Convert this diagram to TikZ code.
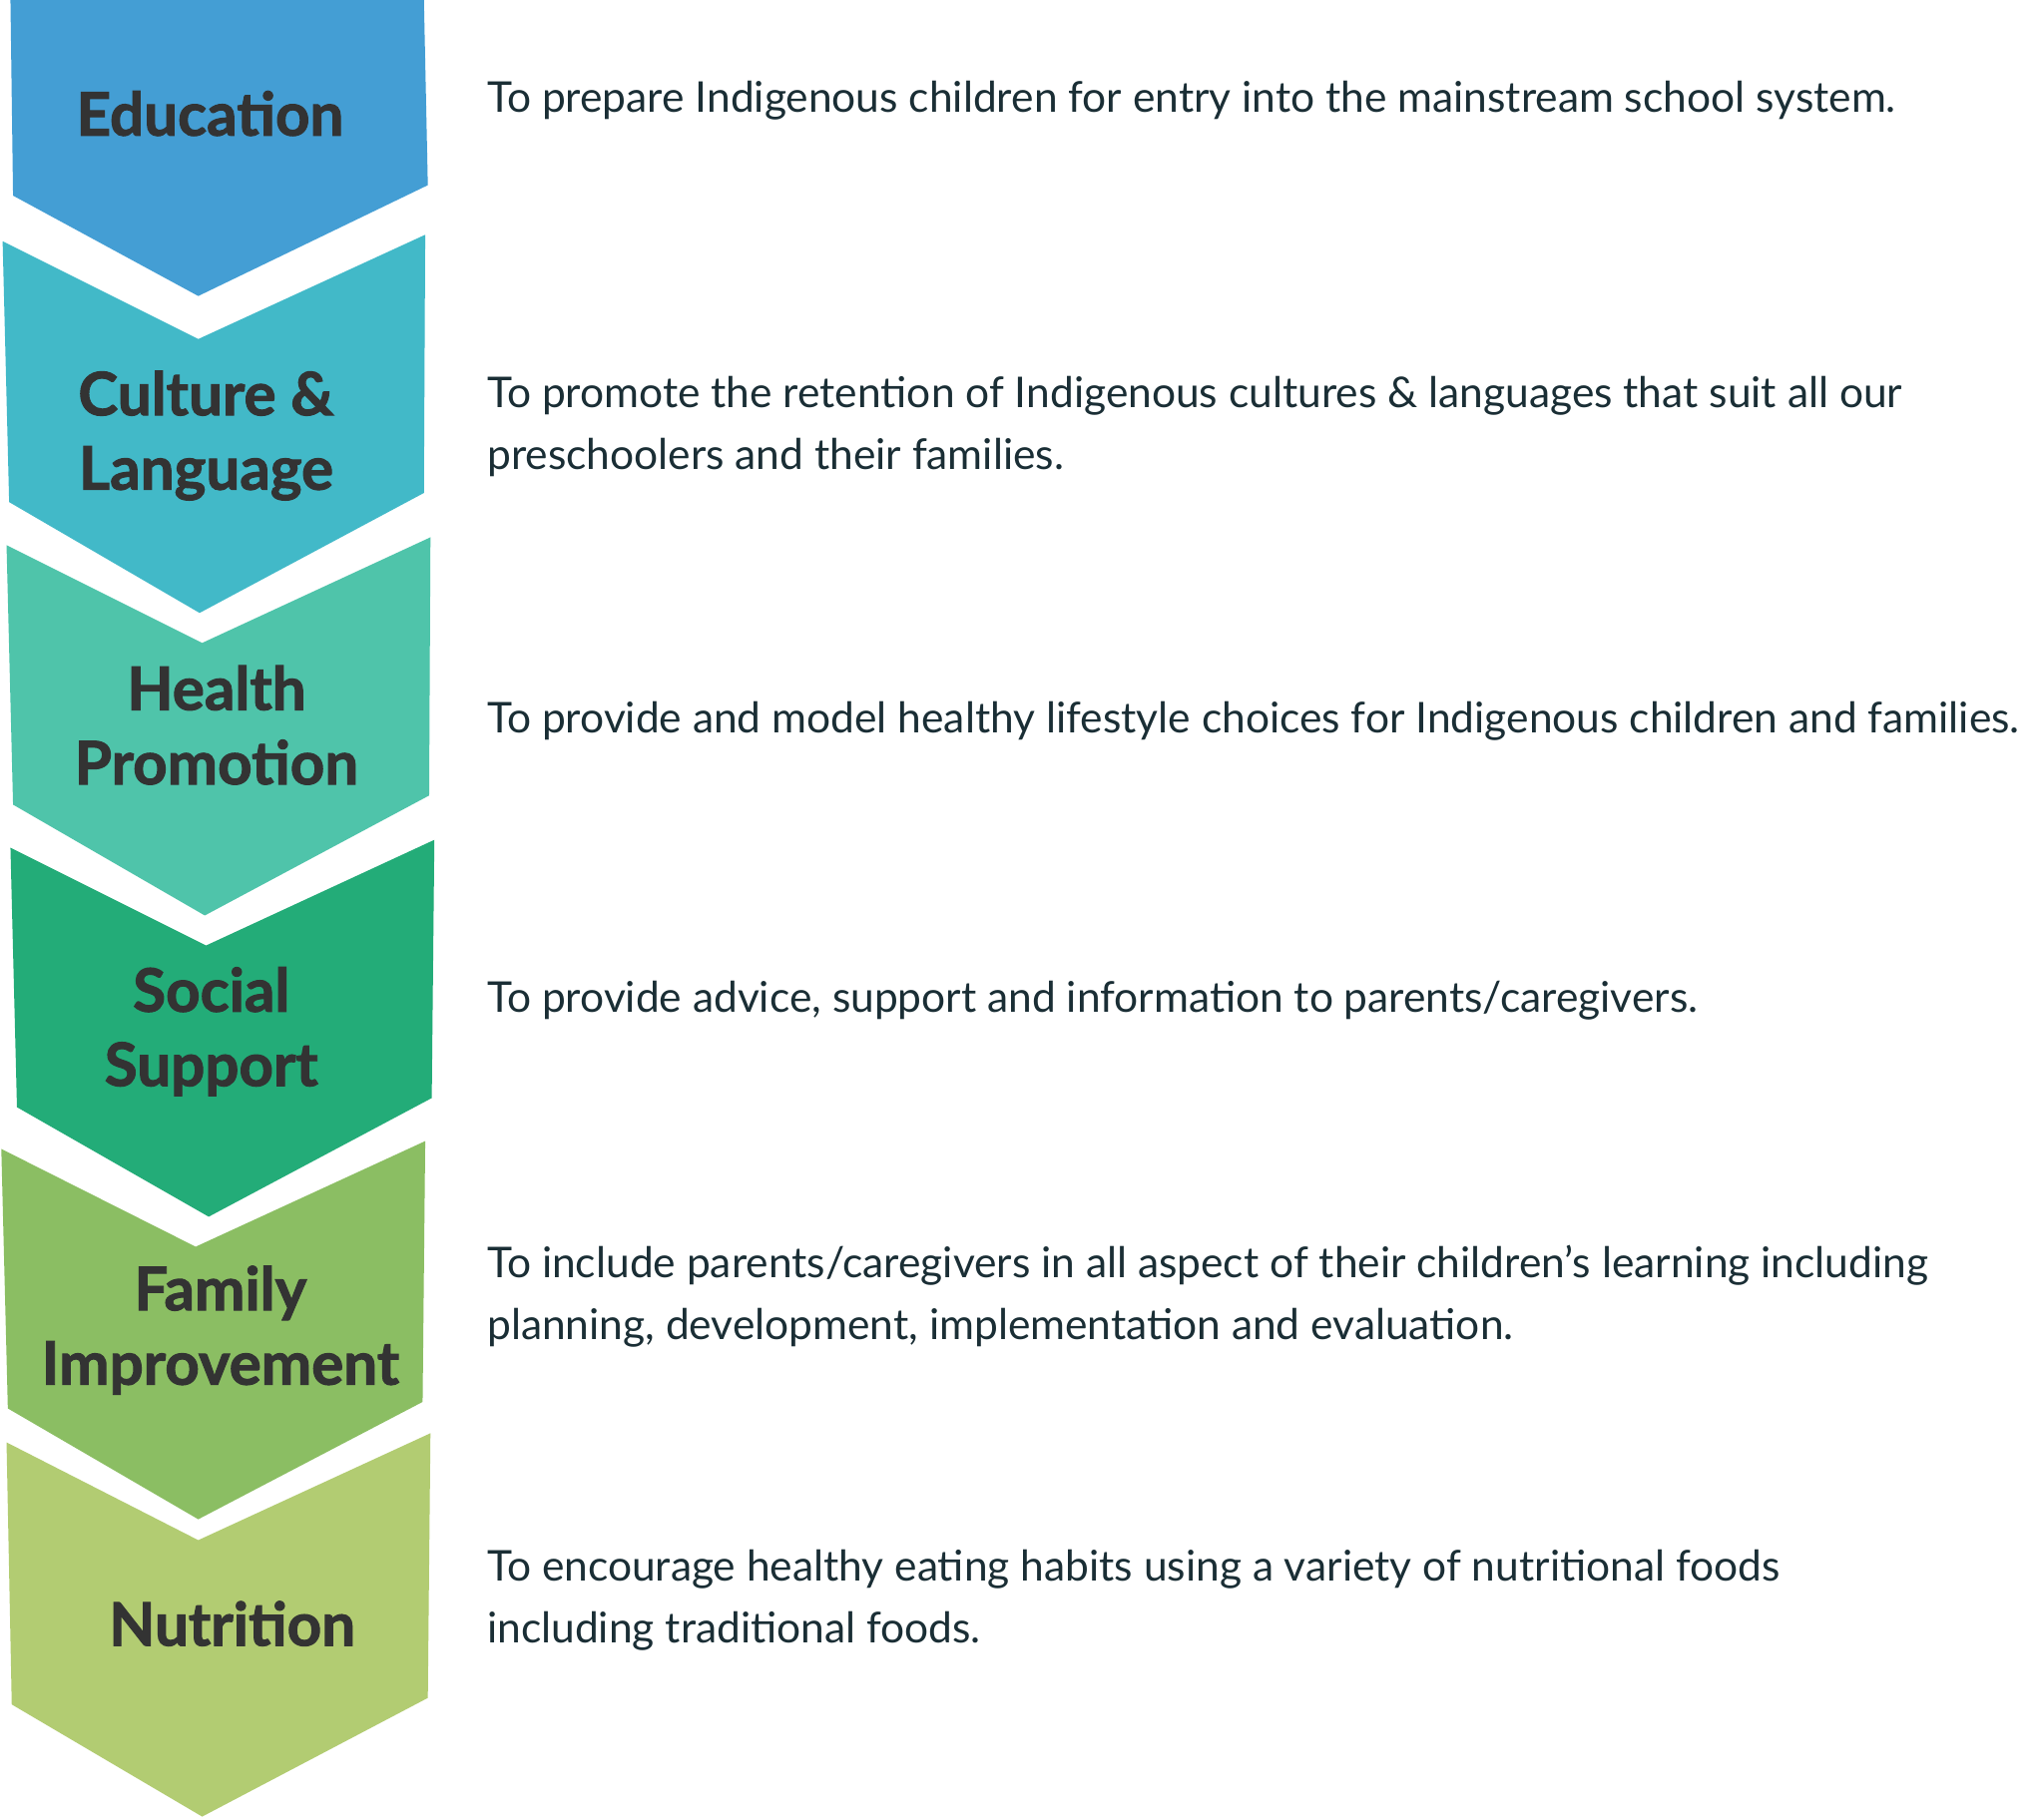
\documentclass[tikz,border=0pt]{standalone}
\usepackage{fontspec}
\setmainfont{Lato}[BoldFeatures={FakeBold=1.6}]
\definecolor{c1}{HTML}{449ED4}
\definecolor{c2}{HTML}{42B9C8}
\definecolor{c3}{HTML}{4FC4AA}
\definecolor{c4}{HTML}{23AC78}
\definecolor{c5}{HTML}{8BBE63}
\definecolor{c6}{HTML}{B2CC72}
\definecolor{lab}{HTML}{333333}
\definecolor{desc}{HTML}{1A2E35}
\begin{document}
\begin{tikzpicture}[x=1pt,y=-1pt,
  lbl/.style={font=\fontsize{46}{57}\selectfont\bfseries, text=lab, align=center},
  dsc/.style={font=\fontsize{32.5}{47}\selectfont, text=desc, align=left, anchor=west}]
\useasboundingbox (0,0) rectangle (1567,1395);
\fill[c1] (8,0) -- (325,0) -- (328,142) -- (152,227) -- (10,150) -- cycle;
\fill[c2] (2,185) -- (152,260) -- (326,180) -- (325,378) -- (153,470) -- (7,385) -- cycle;
\fill[c3] (5,418) -- (155,493) -- (330,412) -- (329,610) -- (157,702) -- (10,617) -- cycle;
\fill[c4] (8,650) -- (158,725) -- (333,644) -- (331,842) -- (160,933) -- (13,849) -- cycle;
\fill[c5] (1,881) -- (150,956) -- (326,875) -- (324,1075) -- (152,1165) -- (6,1080) -- cycle;
\fill[c6] (5,1106) -- (152,1181) -- (330,1099) -- (328,1302) -- (155,1393) -- (9,1307) -- cycle;
\node[lbl] (l1) at (161,87) {Education};
\node[lbl] (l2) at (158,334) {Culture \&\\Language};
\node[lbl] (l3) at (166,556) {Health\\Promotion};
\node[lbl] (l4) at (162,791) {Social\\Support};
\node[lbl] (l5) at (169,1020) {Family\\Improvement};
\node[lbl] (l6) at (178,1245) {Nutrition};
\node[dsc] (d1) at (370,77) {To prepare Indigenous children for entry into the mainstream school system.};
\node[dsc] (d2) at (370,327) {To promote the retention of Indigenous cultures \& languages that suit all our\\preschoolers and their families.};
\node[dsc] (d3) at (370,553) {To provide and model healthy lifestyle choices for Indigenous children and families.};
\node[dsc] (d4) at (370,767) {To provide advice, support and information to parents/caregivers.};
\node[dsc] (d5) at (370,994) {To include parents/caregivers in all aspect of their children’s learning including\\planning, development, implementation and evaluation.};
\node[dsc] (d6) at (370,1227) {To encourage healthy eating habits using a variety of nutritional foods\\including traditional foods.};
\end{tikzpicture}
\end{document}
